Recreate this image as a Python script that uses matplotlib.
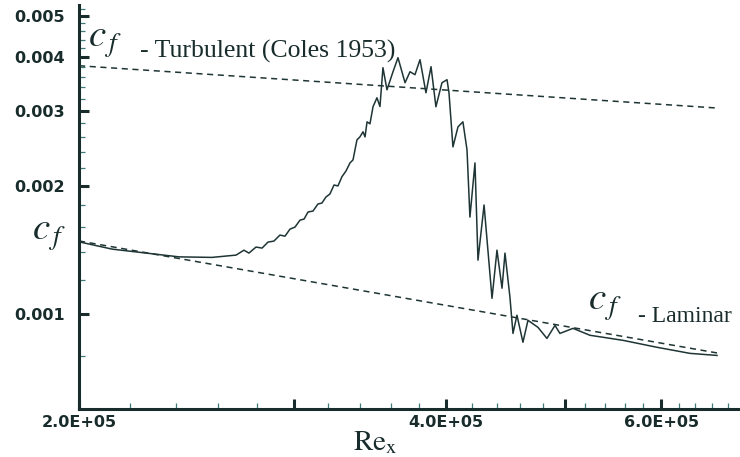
import numpy as np
import matplotlib
matplotlib.use("Agg")
import matplotlib.pyplot as plt
from matplotlib.ticker import FixedLocator, NullFormatter

rex = [2.000e5, 2.129e5, 2.270e5, 2.415e5, 2.570e5, 2.690e5, 2.730e5, 2.756e5,
       2.793e5, 2.825e5, 2.857e5, 2.889e5, 2.922e5, 2.950e5, 2.978e5, 3.006e5,
       3.035e5, 3.058e5, 3.081e5, 3.110e5, 3.139e5, 3.163e5, 3.187e5, 3.211e5,
       3.236e5, 3.260e5, 3.285e5, 3.310e5, 3.335e5, 3.354e5, 3.379e5, 3.398e5,
       3.418e5, 3.431e5, 3.444e5, 3.463e5, 3.483e5, 3.509e5, 3.529e5,
       3.549e5, 3.576e5, 3.617e5, 3.651e5,
       3.700e5, 3.735e5, 3.770e5, 3.806e5, 3.849e5, 3.886e5, 3.922e5, 3.967e5,
       4.005e5, 4.020e5, 4.050e5, 4.089e5, 4.127e5, 4.159e5, 4.182e5, 4.222e5,
       4.246e5, 4.295e5, 4.360e5, 4.401e5, 4.443e5, 4.468e5, 4.510e5, 4.536e5,
       4.570e5, 4.622e5, 4.666e5, 4.755e5, 4.836e5, 4.910e5, 4.956e5, 5.080e5,
       5.245e5, 5.582e5, 5.952e5, 6.334e5, 6.666e5]
cf = [0.001478, 0.001421, 0.001391, 0.001363, 0.001359, 0.001376, 0.001413, 0.001391,
      0.001437, 0.001429, 0.001476, 0.001484, 0.001533, 0.001524, 0.001583, 0.001600,
      0.001662, 0.001671, 0.001736, 0.001745, 0.001812, 0.001822, 0.001882, 0.001913,
      0.002008, 0.001998, 0.002101, 0.002166, 0.002262, 0.002299, 0.002561, 0.002603,
      0.002675, 0.002603, 0.002823, 0.002793, 0.003062, 0.003214, 0.003066,
      0.003780, 0.003356, 0.003699, 0.003990,
      0.003486, 0.003699, 0.003640, 0.003947, 0.003302, 0.003801, 0.003062, 0.003486,
      0.003543, 0.003302, 0.002466, 0.002748, 0.002823, 0.002427, 0.001689, 0.002262,
      0.001339, 0.001803, 0.001090, 0.001413, 0.001151, 0.001391, 0.001096, 0.000902,
      0.000995, 0.000860, 0.000968, 0.000932, 0.000878, 0.000942, 0.000902, 0.000927,
      0.000893, 0.000869, 0.000837, 0.000810, 0.000801]

# reference correlations (end points)
rex_ref = [2.0e5, 6.68e5]
cf_turb = [0.00382, 0.00304]
cf_lam = [0.001485, 0.000811]

xticks = [2e5, 3e5, 4e5, 5e5, 6e5]
xlabels = ['2.0E+05', '', '4.0E+05', '', '6.0E+05']
yticks = [0.001, 0.002, 0.003, 0.004, 0.005]
ylabels = ['0.001', '0.002', '0.003', '0.004', '0.005']

ink = '#182c2c'
plt.rcParams['mathtext.fontset'] = 'stix'

fig = plt.figure(figsize=(7.4, 4.57), dpi=100)
ax = fig.add_axes([0.1068, 0.105, 0.892, 0.884])

ax.plot(rex, cf, color='#1f3535', lw=1.1)
ax.plot(rex_ref, cf_turb, color='#1f3535', lw=1.1, ls=(0, (4, 3)))
ax.plot(rex_ref, cf_lam, color='#1f3535', lw=1.1, ls=(0, (4, 3)))

ax.set_xscale('log')
ax.set_yscale('log')
ax.set_xlim(2e5, 6.95e5)
ax.set_ylim(0.0006, 0.0053)

ax.xaxis.set_major_locator(FixedLocator(xticks))
ax.set_xticklabels(xlabels)
xminor = [v for v in np.arange(2.2e5, 6.9e5, 2e4) if round(v / 1e4) % 10 != 0]
ax.xaxis.set_minor_locator(FixedLocator(xminor))
ax.xaxis.set_minor_formatter(NullFormatter())

ax.yaxis.set_major_locator(FixedLocator(yticks))
ax.set_yticklabels(ylabels)
yminor = [v for v in np.arange(0.0006, 0.00525, 0.0002) if round(v * 1e4) % 10 != 0]
ax.yaxis.set_minor_locator(FixedLocator(yminor))
ax.yaxis.set_minor_formatter(NullFormatter())

for s in ['top', 'right']:
    ax.spines[s].set_visible(False)
for s in ['left', 'bottom']:
    ax.spines[s].set_linewidth(2.2)
    ax.spines[s].set_color(ink)

ax.tick_params(which='major', direction='in', length=7.5, width=2.2, color=ink)
ax.tick_params(which='minor', direction='in', length=4, width=0.9, color='#3f7a7a')
ax.tick_params(axis='y', which='major', pad=10)
ax.tick_params(axis='x', which='major', pad=4)
for lab in ax.get_xticklabels() + ax.get_yticklabels():
    lab.set_fontweight('bold')
    lab.set_fontsize(11.5)
    lab.set_color(ink)

# axis title, placed left of centre as in the original
fig.text(353 / 740, 1 - 450 / 457, r'$\mathrm{Re}_{\mathrm{x}}$', fontsize=21, color=ink,
         ha='left', va='baseline')

serif = 'Liberation Serif'
fig.text(88 / 740, 1 - 47 / 457, r'$c_{\,f}$', fontsize=28, color=ink, ha='left', va='baseline')
fig.text(140 / 740, 1 - 58 / 457, '- Turbulent (Coles 1953)', fontsize=18.5, family=serif,
         color=ink, ha='left', va='baseline')
fig.text(32 / 740, 1 - 240 / 457, r'$c_{\,f}$', fontsize=28, color=ink, ha='left', va='baseline')
fig.text(588 / 740, 1 - 310 / 457, r'$c_{\,f}$', fontsize=28, color=ink, ha='left', va='baseline')
fig.text(638 / 740, 1 - 322 / 457, '- Laminar', fontsize=17, family=serif,
         color=ink, ha='left', va='baseline')

fig.savefig('out.png', dpi=100)
